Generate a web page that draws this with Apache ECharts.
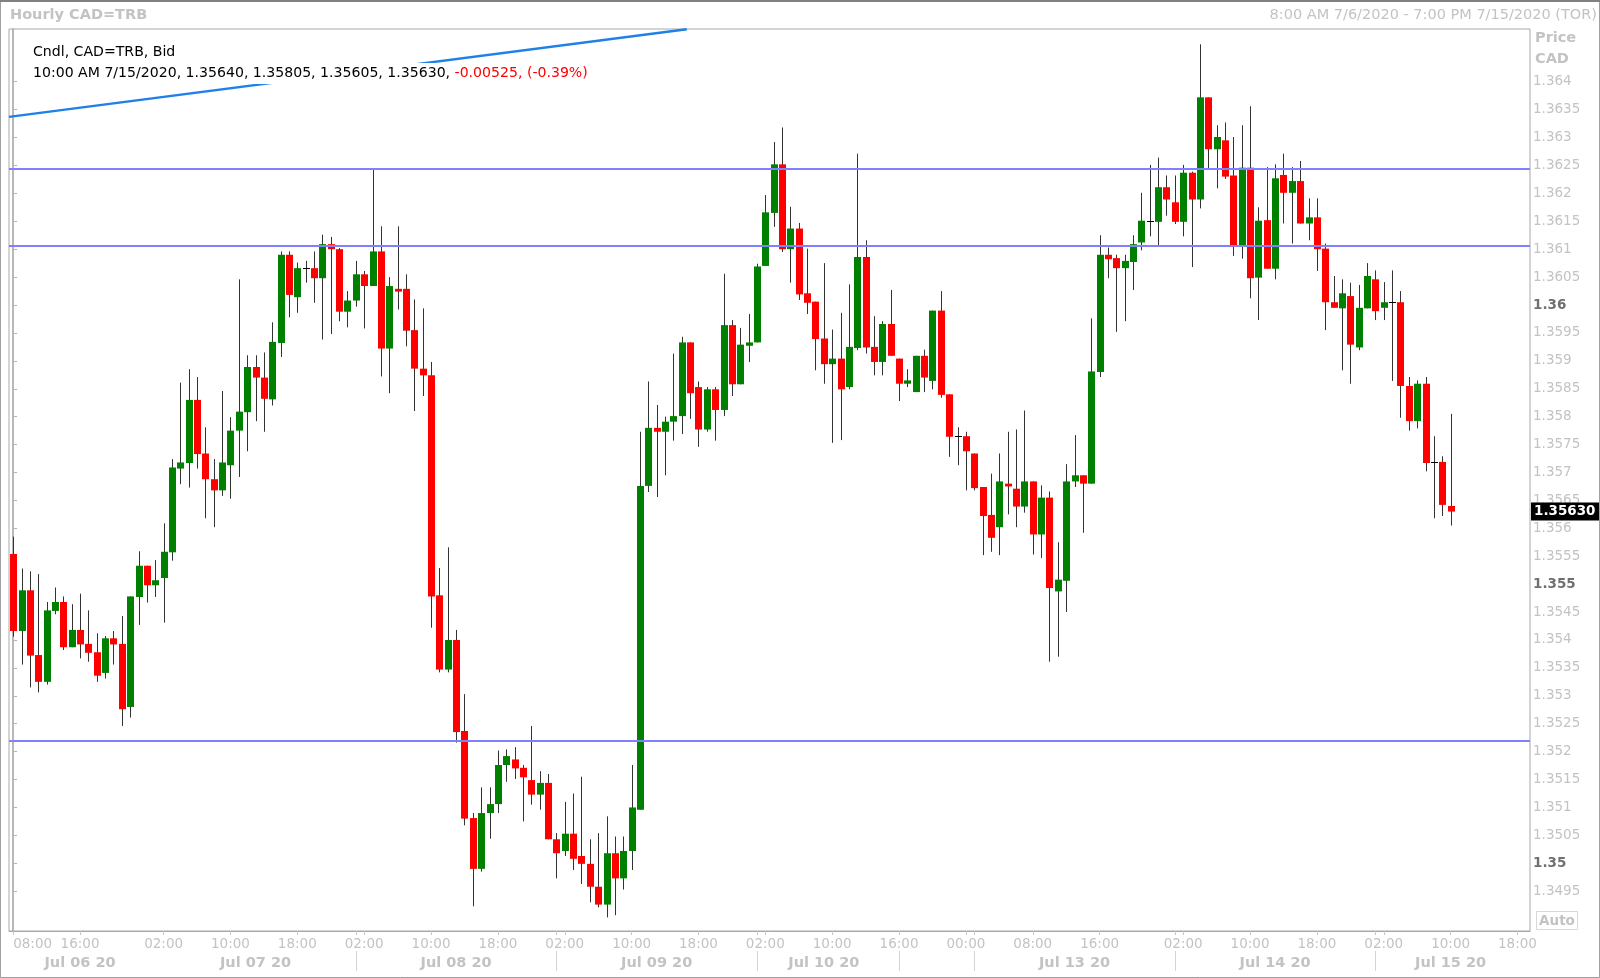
<!DOCTYPE html>
<html><head><meta charset="utf-8">
<script src="https://cdn.jsdelivr.net/npm/echarts@6/dist/echarts.min.js"></script>
<style>html,body{margin:0;padding:0;background:#fff}#c{width:1600px;height:978px}</style>
</head><body><div id="c"></div>
<script>
// ---------- DATA ----------
// trading sessions (hourly bars, weekend gap collapsed); last 9 slots are empty future hours
const sessions = [['2020-07-06 08:00', '2020-07-10 16:00'], ['2020-07-12 15:00', '2020-07-15 19:00']];

const candleOpen = [1.35554,1.35416,1.35489,1.35373,1.35325,1.35452,1.35468,1.35387,1.35418,1.35393,
1.35378,1.35341,1.35403,1.35393,1.35280,1.35477,1.35533,1.35498,1.35511,1.35557,
1.35707,1.35717,1.35830,1.35734,1.35688,1.35668,1.35713,1.35775,1.35808,1.35889,
1.35870,1.35831,1.35932,1.36090,1.36014,1.36066,1.36066,1.36048,1.36109,1.36100,
1.35988,1.36008,1.36055,1.36034,1.36096,1.35922,1.36029,1.36029,1.35955,1.35886,
1.35874,1.35480,1.35347,1.35400,1.35237,1.35081,1.34990,1.35090,1.35106,1.35176,
1.35186,1.35171,1.35149,1.35123,1.35144,1.35043,1.35022,1.35053,1.35013,1.34999,
1.34958,1.34926,1.35018,1.34973,1.35022,1.35096,1.35676,1.35780,1.35773,1.35791,
1.35801,1.35933,1.35853,1.35777,1.35849,1.35812,1.35964,1.35858,1.35927,1.35933,
1.36070,1.36165,1.36252,1.36100,1.36137,1.36021,1.36006,1.35940,1.35894,1.35904,
1.35853,1.35923,1.36086,1.35925,1.35898,1.35966,1.35904,1.35859,1.35844,1.35909,
1.35864,1.35990,1.35840,1.35765,1.35765,1.35734,1.35674,1.35624,1.35602,1.35680,
1.35671,1.35639,1.35684,1.35589,1.35655,1.35487,1.35506,1.35684,1.35695,1.35680,
1.35880,1.36090,1.36084,1.36066,1.36077,1.36112,1.36151,1.36149,1.36211,1.36184,
1.36149,1.36237,1.36189,1.36372,1.36279,1.36295,1.36232,1.36105,1.36246,1.36049,
1.36152,1.36065,1.36233,1.36201,1.36222,1.36146,1.36157,1.36101,1.36005,1.35994,
1.36016,1.35924,1.35994,1.36046,1.35995,1.36005,1.36005,1.35855,1.35792,1.35859,
1.35719,1.35719,1.35640];

const candleClose = [1.35416,1.35489,1.35372,1.35325,1.35453,1.35468,1.35387,1.35418,1.35392,1.35377,
1.35336,1.35403,1.35392,1.35276,1.35478,1.35533,1.35498,1.35507,1.35558,1.35709,
1.35718,1.35830,1.35733,1.35688,1.35668,1.35718,1.35775,1.35809,1.35889,1.35870,
1.35832,1.35934,1.36090,1.36018,1.36066,1.36066,1.36048,1.36109,1.36100,1.35988,
1.36008,1.36055,1.36034,1.36096,1.35922,1.36034,1.36024,1.35954,1.35886,1.35874,
1.35478,1.35347,1.35400,1.35235,1.35080,1.34990,1.35090,1.35106,1.35176,1.35192,
1.35170,1.35154,1.35123,1.35144,1.35043,1.35018,1.35053,1.35008,1.34999,1.34958,
1.34926,1.35018,1.34973,1.35022,1.35100,1.35676,1.35780,1.35773,1.35791,1.35801,
1.35933,1.35842,1.35777,1.35849,1.35812,1.35964,1.35858,1.35929,1.35933,1.36069,
1.36166,1.36252,1.36100,1.36137,1.36019,1.36004,1.35939,1.35894,1.35904,1.35849,
1.35925,1.36086,1.35924,1.35898,1.35966,1.35909,1.35859,1.35865,1.35909,1.35870,
1.35990,1.35839,1.35764,1.35765,1.35738,1.35672,1.35622,1.35583,1.35684,1.35675,
1.35639,1.35684,1.35589,1.35655,1.35493,1.35508,1.35684,1.35695,1.35680,1.35881,
1.36090,1.36082,1.36066,1.36079,1.36109,1.36151,1.36151,1.36211,1.36189,1.36149,
1.36237,1.36189,1.36372,1.36279,1.36301,1.36230,1.36105,1.36246,1.36048,1.36151,
1.36065,1.36227,1.36201,1.36222,1.36146,1.36157,1.36100,1.36005,1.35995,1.36021,
1.35929,1.35995,1.36052,1.35989,1.36005,1.36005,1.35855,1.35792,1.35859,1.35717,
1.35719,1.35642,1.35630];

const candleHigh = [1.35585,1.35528,1.35523,1.35518,1.35468,1.35494,1.35478,1.35464,1.35483,1.35453,
1.35412,1.35407,1.35416,1.35443,1.35478,1.35559,1.35533,1.35543,1.35609,1.35724,
1.35861,1.35885,1.35871,1.35781,1.35724,1.35846,1.35799,1.36046,1.35910,1.35910,
1.35915,1.35969,1.36096,1.36096,1.36076,1.36079,1.36096,1.36126,1.36122,1.36102,
1.36025,1.36079,1.36061,1.36242,1.36141,1.36050,1.36141,1.36055,1.36010,1.35994,
1.35898,1.35529,1.35566,1.35418,1.35303,1.35090,1.35136,1.35136,1.35202,1.35204,
1.35208,1.35176,1.35246,1.35165,1.35160,1.35054,1.35110,1.35125,1.35155,1.35043,
1.35054,1.35084,1.35048,1.35048,1.35176,1.35773,1.35863,1.35821,1.35800,1.35913,
1.35943,1.35933,1.35863,1.35853,1.35853,1.36056,1.35973,1.35959,1.35984,1.36074,
1.36197,1.36292,1.36318,1.36176,1.36147,1.36101,1.36006,1.36075,1.35956,1.35986,
1.36037,1.36271,1.36116,1.35980,1.35971,1.36027,1.35904,1.35885,1.35909,1.35920,
1.35990,1.36025,1.35840,1.35781,1.35773,1.35734,1.35674,1.35698,1.35734,1.35773,
1.35777,1.35811,1.35684,1.35677,1.35666,1.35575,1.35715,1.35767,1.35695,1.35976,
1.36125,1.36103,1.36090,1.36090,1.36125,1.36201,1.36251,1.36264,1.36232,1.36232,
1.36251,1.36239,1.36467,1.36372,1.36322,1.36327,1.36301,1.36322,1.36356,1.36175,
1.36247,1.36252,1.36271,1.36247,1.36258,1.36191,1.36191,1.36110,1.36052,1.36046,
1.36040,1.36036,1.36075,1.36062,1.36041,1.36062,1.36025,1.35871,1.35865,1.35871,
1.35765,1.35729,1.35805];

const candleLow = [1.35406,1.35356,1.35315,1.35306,1.35320,1.35446,1.35382,1.35387,1.35367,1.35361,
1.35325,1.35331,1.35356,1.35246,1.35261,1.35427,1.35467,1.35477,1.35431,1.35542,
1.35679,1.35673,1.35707,1.35618,1.35602,1.35658,1.35653,1.35692,1.35738,1.35792,
1.35773,1.35820,1.35907,1.35978,1.35986,1.36040,1.36004,1.35938,1.35948,1.35971,
1.35960,1.35997,1.35958,1.36034,1.35872,1.35842,1.35992,1.35926,1.35810,1.35837,
1.35422,1.35342,1.35342,1.35216,1.35068,1.34923,1.34985,1.35044,1.35090,1.35146,
1.35151,1.35075,1.35105,1.35096,1.35043,1.34973,1.35013,1.34988,1.34963,1.34930,
1.34921,1.34903,1.34907,1.34953,1.34988,1.35096,1.35665,1.35656,1.35695,1.35757,
1.35769,1.35796,1.35746,1.35773,1.35757,1.35801,1.35837,1.35858,1.35898,1.35933,
1.36070,1.36140,1.36095,1.36040,1.36009,1.35984,1.35883,1.35859,1.35753,1.35758,
1.35849,1.35919,1.35913,1.35874,1.35874,1.35909,1.35828,1.35853,1.35844,1.35844,
1.35849,1.35834,1.35728,1.35713,1.35668,1.35668,1.35552,1.35558,1.35552,1.35625,
1.35602,1.35628,1.35553,1.35547,1.35361,1.35370,1.35450,1.35674,1.35592,1.35680,
1.35871,1.36048,1.35952,1.35971,1.36027,1.36098,1.36123,1.36105,1.36160,1.36145,
1.36123,1.36068,1.36173,1.36242,1.36209,1.36226,1.36088,1.36083,1.36012,1.35973,
1.36065,1.36046,1.36146,1.36110,1.36146,1.36116,1.36061,1.35955,1.35995,1.35883,
1.35859,1.35919,1.35994,1.35973,1.35973,1.35864,1.35798,1.35775,1.35779,1.35702,
1.35618,1.35622,1.35605];

// horizontal support / resistance lines and the drawn trend line (x = bar index, y = price)
const levelLines = [1.36244, 1.36106, 1.35219];
const trendLine = [[-0.5, 1.36337], [80.6, 1.36494]];
const lastPrice = 1.35630;

// axis ticks / labels
const yTickValues = [1.3495,1.35,1.3505,1.351,1.3515,1.352,1.3525,1.353,1.3535,1.354,1.3545,1.355,1.3555,1.356,
  1.3565,1.357,1.3575,1.358,1.3585,1.359,1.3595,1.36,1.3605,1.361,1.3615,1.362,1.3625,1.363,1.3635,1.364];
const yBoldLabels = ['1.35', '1.355', '1.36'];
const hourTickAt = ['2020-07-06 08:00','2020-07-06 16:00','2020-07-07 02:00','2020-07-07 10:00','2020-07-07 18:00',
  '2020-07-08 02:00','2020-07-08 10:00','2020-07-08 18:00','2020-07-09 02:00','2020-07-09 10:00','2020-07-09 18:00',
  '2020-07-10 02:00','2020-07-10 10:00','2020-07-12 16:00','2020-07-13 00:00','2020-07-13 08:00','2020-07-13 16:00',
  '2020-07-14 02:00','2020-07-14 10:00','2020-07-14 18:00','2020-07-15 02:00','2020-07-15 10:00','2020-07-15 18:00'];
const dayDividerAt = ['2020-07-08 01:00','2020-07-09 01:00','2020-07-10 01:00','2020-07-12 16:00',
  '2020-07-13 01:00','2020-07-14 01:00','2020-07-15 01:00'];
const dateLabelAt = ['2020-07-06 16:00','2020-07-07 13:00','2020-07-08 13:00','2020-07-09 13:00','2020-07-10 09:00',
  '2020-07-13 13:00','2020-07-14 13:00','2020-07-15 10:00'];
const dateLabelText = ['Jul 06 20','Jul 07 20','Jul 08 20','Jul 09 20','Jul 10 20','Jul 13 20','Jul 14 20','Jul 15 20'];

const headerTitle = 'Hourly CAD=TRB';
const headerRange = '8:00 AM 7/6/2020 - 7:00 PM 7/15/2020 (TOR)';
const legendLine1 = 'Cndl, CAD=TRB, Bid';
const legendLine2 = '10:00 AM 7/15/2020, 1.35640, 1.35805, 1.35605, 1.35630, ';
const legendChange = '-0.00525, (-0.39%)';

// ---------- BUILD ----------
function buildCategories(ss) {
  const out = [];
  for (const [a, b] of ss) {
    let t = Date.parse(a.replace(' ', 'T') + ':00Z');
    const e = Date.parse(b.replace(' ', 'T') + ':00Z');
    while (t <= e) { out.push(new Date(t).toISOString().slice(0, 16).replace('T', ' ')); t += 3600000; }
  }
  return out;
}
const categories = buildCategories(sessions);
const candles = candleOpen.map((o, i) => [i, o, candleClose[i], candleLow[i], candleHigh[i]]);
const dateMap = {};
dateLabelAt.forEach((k, i) => { dateMap[k] = dateLabelText[i]; });

const FONT = 'DejaVu Sans';
const GREY = '#c3c3c3';
const UP = '#008000', DOWN = '#ff0000', WICK = '#333333';

const chart = echarts.init(document.getElementById('c'));
const option = {
  animation: false,
  backgroundColor: '#fff',
  grid: { left: 9, right: 70, top: 29, bottom: 47, show: true, borderColor: '#a8a8a8', borderWidth: 1 },
  xAxis: [
    {
      type: 'category', data: categories, boundaryGap: true, position: 'bottom',
      axisLine: { show: true, lineStyle: { color: '#a8a8a8' } },
      axisTick: { show: true, alignWithLabel: true, length: 4, lineStyle: { color: '#c8c8c8' },
        interval: (i, v) => hourTickAt.includes(v) || dayDividerAt.includes(v) },
      axisLabel: { interval: (i, v) => hourTickAt.includes(v), formatter: v => v.slice(11),
        color: GREY, fontSize: 13.5, fontFamily: FONT, margin: 6, alignMinLabel: 'left' },
      splitLine: { show: false }
    },
    {
      type: 'category', data: categories, boundaryGap: true, position: 'bottom', offset: 20,
      axisLine: { show: false },
      axisTick: { show: true, alignWithLabel: true, length: 20, lineStyle: { color: '#d4d4d4' },
        interval: (i, v) => dayDividerAt.includes(v) },
      axisLabel: { interval: (i, v) => dateMap[v] !== undefined, formatter: v => dateMap[v] || '',
        color: GREY, fontSize: 14.5, fontWeight: 'bold', fontFamily: FONT, margin: 5 },
      splitLine: { show: false }
    },
    { type: 'value', show: false, min: -0.5, max: categories.length - 0.5 }
  ],
  yAxis: {
    type: 'value', position: 'right', min: 1.348787, max: 1.364944,
    axisLine: { show: true, lineStyle: { color: '#a0a0a0', width: 1.5 } },
    axisTick: { show: true, customValues: yTickValues, length: 4, lineStyle: { color: '#b4b4b4' } },
    axisLabel: {
      customValues: yTickValues, color: GREY, fontSize: 13.5, fontFamily: FONT, margin: 3,
      formatter: v => { const s = String(parseFloat(Number(v).toFixed(4))); return yBoldLabels.includes(s) ? '{b|' + s + '}' : s; },
      rich: { b: { fontWeight: 'bold', color: '#707070', fontSize: 13.5, fontFamily: FONT } }
    },
    splitLine: { show: false }
  },
  series: [
    {
      type: 'custom', xAxisIndex: 0, yAxisIndex: 0, z: 2, silent: true,
      encode: { x: 0, y: [1, 2, 3, 4] },
      data: candles,
      renderItem: function (params, api) {
        const i = api.value(0), o = api.value(1), c = api.value(2), l = api.value(3), h = api.value(4);
        const band = api.size([1, 0])[0];
        const pO = api.coord([i, o]);
        const cx = Math.round(pO[0]) + 0.5;
        const yO = pO[1], yC = api.coord([i, c])[1];
        const yH = api.coord([i, Math.max(h, o, c)])[1], yL = api.coord([i, Math.min(l, o, c)])[1];
        const bw = Math.round(band * 0.8);
        const children = [{ type: 'line', shape: { x1: cx, y1: yH, x2: cx, y2: yL }, style: { stroke: WICK, lineWidth: 1 } }];
        if (Math.abs(c - o) < 1e-9) {
          const yy = Math.round(yO) + 0.5;
          children.push({ type: 'line', shape: { x1: cx - bw / 2, y1: yy, x2: cx + bw / 2, y2: yy }, style: { stroke: '#000', lineWidth: 1 } });
        } else {
          const top = Math.min(yO, yC), ht = Math.max(Math.abs(yO - yC), 1);
          children.push({ type: 'rect', shape: { x: cx - bw / 2, y: top, width: bw, height: ht }, style: { fill: c > o ? UP : DOWN } });
        }
        return { type: 'group', children: children };
      }
    },
    {
      type: 'line', xAxisIndex: 2, yAxisIndex: 0, z: 4, silent: true, clip: true,
      data: trendLine, symbol: 'none', lineStyle: { color: '#1f80e8', width: 2.5 },
      markLine: {
        silent: true, symbol: ['none', 'none'], animation: false, precision: 5,
        label: { show: false },
        data: levelLines.map(v => ({ yAxis: v, lineStyle: { color: '#8080ff', width: 2, type: 'solid' } })).concat([{
          yAxis: lastPrice,
          lineStyle: { color: 'rgba(0,0,0,0)', width: 1, type: 'solid' },
          label: { show: true, position: 'end', distance: 1, formatter: lastPrice.toFixed(5),
            color: '#fff', backgroundColor: '#000', fontWeight: 'bold', fontSize: 13.5, fontFamily: FONT,
            padding: [2, 4, 2, 3] }
        }])
      }
    }
  ],
  graphic: [
    { type: 'rect', z: 200, shape: { x: 0.5, y: 0.5, width: 1599, height: 977 }, style: { fill: 'none', stroke: '#a0a0a0', lineWidth: 1 } },
    { type: 'line', z: 200, shape: { x1: 0, y1: 1, x2: 1600, y2: 1 }, style: { stroke: '#808080', lineWidth: 2 } },
    { type: 'text', z: 200, style: { text: headerTitle, x: 10, y: 15, fill: GREY, font: 'bold 14.5px "DejaVu Sans"', textVerticalAlign: 'middle' } },
    { type: 'text', z: 200, style: { text: headerRange, x: 1597, y: 15, fill: GREY, font: '14.5px "DejaVu Sans"', textAlign: 'right', textVerticalAlign: 'middle' } },
    { type: 'rect', z: 150, shape: { x: 30, y: 42, width: 150, height: 20 }, style: { fill: '#fff' } },
    { type: 'rect', z: 150, shape: { x: 30, y: 63, width: 562, height: 21 }, style: { fill: '#fff' } },
    { type: 'text', z: 200, style: { text: legendLine1, x: 33, y: 52, fill: '#000', font: '14.1px "DejaVu Sans"', textVerticalAlign: 'middle' } },
    { type: 'text', z: 200, style: { text: legendLine2 + '{r|' + legendChange + '}', x: 33, y: 73.5, fill: '#000', font: '14.1px "DejaVu Sans"', textVerticalAlign: 'middle',
        rich: { r: { fill: '#ff0000', font: '14.1px "DejaVu Sans"' } } } },
    { type: 'text', z: 200, style: { text: 'Price', x: 1535, y: 38, fill: GREY, font: 'bold 14.5px "DejaVu Sans"', textVerticalAlign: 'middle' } },
    { type: 'text', z: 200, style: { text: 'CAD', x: 1535, y: 59, fill: GREY, font: 'bold 14.5px "DejaVu Sans"', textVerticalAlign: 'middle' } },
    { type: 'rect', z: 200, shape: { x: 1536.5, y: 911.5, width: 41, height: 18 }, style: { fill: '#fff', stroke: '#d8d8d8', lineWidth: 1 } },
    { type: 'text', z: 201, style: { text: 'Auto', x: 1557, y: 921, fill: GREY, font: 'bold 13.5px "DejaVu Sans"', textAlign: 'center', textVerticalAlign: 'middle' } }
  ]
};
chart.setOption(option);
</script>
</body></html>
